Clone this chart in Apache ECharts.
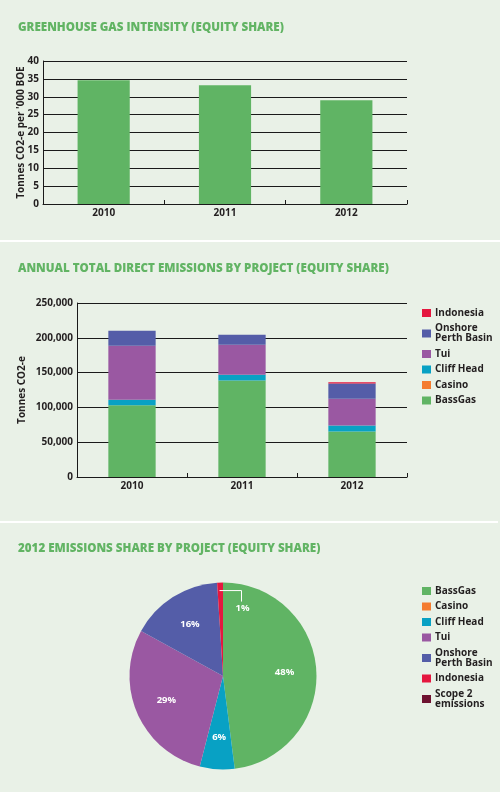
<!DOCTYPE html>
<html>
<head>
<meta charset="utf-8">
<script src="https://cdn.jsdelivr.net/npm/echarts@6/dist/echarts.min.js"></script>
<style>
  html, body { margin: 0; padding: 0; background: #e9f1e7; }
  #wrap { position: relative; width: 500px; height: 792px; overflow: hidden; }
  .sep { position: absolute; left: 0; height: 2px; background: #fff; }
  #chart { position: absolute; left: 0; top: 0; width: 500px; height: 792px; }
</style>
</head>
<body>
<div id="wrap">
  <div class="sep" style="top:240px;width:500px"></div>
  <div class="sep" style="top:521px;width:498px"></div>
  <div id="chart"></div>
</div>
<script>
// Data
const years = ['2010', '2011', '2012']

// tonnes CO2-e per '000 BOE
const intensity = [34.6, 33.2, 29.0]

// tonnes CO2-e, stacked from the bottom up
const projects = ['BassGas', 'Casino', 'Cliff Head', 'Tui', 'Onshore Perth Basin', 'Indonesia']
const bassGas = [103000, 138500, 65500]
const casino = [0, 0, 0]
const cliffHead = [8000, 8500, 8500]
const tui = [77500, 43000, 38500]
const onshorePerth = [21500, 14500, 22000]
const indonesia = [0, 0, 1500]

// 2012 share, percent
const pieNames = ['BassGas', 'Casino', 'Cliff Head', 'Tui', 'Onshore Perth Basin', 'Indonesia', 'Scope 2 emissions']
const pieShares = [48, 0, 6, 29, 16, 1, 0]

const colors = {
  'BassGas': '#60b464',
  'Casino': '#f47c30',
  'Cliff Head': '#08a1c4',
  'Tui': '#9a58a2',
  'Onshore Perth Basin': '#545da8',
  'Indonesia': '#e5173f',
  'Scope 2 emissions': '#6e1230',
}

const font = 'Open Sans'
const ink = '#231f20'
const titleGreen = '#62b464'
const pieCenter = [223, 676]
const pieRadius = 93.5

const legendNames = {
  'Onshore Perth Basin': 'Onshore\nPerth Basin',
  'Scope 2 emissions': 'Scope 2\nemissions',
}

const chart = echarts.init(document.getElementById('chart'))

const titleStyle = { color: titleGreen, fontFamily: font, fontWeight: 800, fontSize: 11.6, lineHeight: 14 }
const tickText = { color: ink, fontFamily: font, fontWeight: 'bold', fontSize: 10 }
const blackLine = { color: '#1a1a1a', width: 1 }

function valueAxis (gridIndex, max, interval, name, nameGap, fmt) {
  return {
    gridIndex,
    type: 'value',
    min: 0,
    max,
    interval,
    name,
    nameLocation: 'middle',
    nameGap,
    nameMoveOverlap: false,
    nameTextStyle: { color: ink, fontFamily: font, fontWeight: 'bold', fontSize: 10 },
    axisLine: { show: true, lineStyle: blackLine },
    axisTick: { show: false },
    axisLabel: { ...tickText, margin: 4, formatter: fmt },
    splitLine: { show: true, lineStyle: blackLine },
  }
}

function yearAxis (gridIndex) {
  return {
    gridIndex,
    type: 'category',
    data: years,
    axisLine: { show: true, lineStyle: blackLine },
    axisTick: { show: true, inside: true, length: 4, lineStyle: blackLine },
    axisLabel: { ...tickText, margin: 4 },
  }
}

const stackSeries = [bassGas, casino, cliffHead, tui, onshorePerth, indonesia].map((values, i) => ({
  name: projects[i],
  type: 'bar',
  stack: 'emissions',
  xAxisIndex: 1,
  yAxisIndex: 1,
  barWidth: '43%',
  itemStyle: { color: colors[projects[i]] },
  data: values,
}))

// leader line for the small Indonesia slice, taken from its angle in the pie
const total = pieShares.reduce((a, b) => a + b, 0)
const indoIdx = pieNames.indexOf('Indonesia')
const before = pieShares.slice(0, indoIdx).reduce((a, b) => a + b, 0)
const midAngle = (before + pieShares[indoIdx] * 0.35) / total * 2 * Math.PI
const lx0 = pieCenter[0] + (pieRadius - 8) * Math.sin(midAngle)
const ly0 = pieCenter[1] - (pieRadius - 8) * Math.cos(midAngle)
const leader = [[lx0, ly0], [lx0 + 22, ly0], [lx0 + 22, ly0 + 11]]

chart.setOption({
  animation: false,
  backgroundColor: 'transparent',
  color: pieNames.map(n => colors[n]),
  title: [
    { text: 'GREENHOUSE GAS INTENSITY (EQUITY SHARE)', left: 13, top: 16, textStyle: titleStyle },
    { text: 'ANNUAL TOTAL DIRECT EMISSIONS BY PROJECT (EQUITY SHARE)', left: 13, top: 257, textStyle: titleStyle },
    { text: '2012 EMISSIONS SHARE BY PROJECT (EQUITY SHARE)', left: 13, top: 537, textStyle: titleStyle },
  ],
  grid: [
    { left: 43, right: 93, top: 61, height: 143 },
    { left: 77, right: 93, top: 303, height: 174 },
  ],
  xAxis: [yearAxis(0), yearAxis(1)],
  yAxis: [
    valueAxis(0, 40, 5, "Tonnes CO2-e per '000 BOE", 17),
    valueAxis(1, 250000, 50000, 'Tonnes CO2-e', 50, v => v.toLocaleString('en-US')),
  ],
  legend: [
    {
      orient: 'vertical',
      left: 417,
      top: 303,
      data: projects.slice().reverse(),
      icon: 'rect',
      itemWidth: 9,
      itemHeight: 8,
      itemGap: 5.5,
      selectedMode: false,
      formatter: n => legendNames[n] || n,
      textStyle: { ...tickText, lineHeight: 10, padding: [0, 0, 0, -1] },
    },
    {
      orient: 'vertical',
      left: 417,
      top: 581,
      data: pieNames,
      icon: 'rect',
      itemWidth: 9,
      itemHeight: 8,
      itemGap: 5.5,
      selectedMode: false,
      formatter: n => legendNames[n] || n,
      textStyle: { ...tickText, lineHeight: 10, padding: [0, 0, 0, -1] },
    },
  ],
  graphic: [
    {
      type: 'polyline',
      z: 100,
      silent: true,
      shape: { points: leader },
      style: { stroke: '#fff', lineWidth: 1, fill: null },
    },
  ],
  series: [
    {
      name: 'Intensity',
      type: 'bar',
      xAxisIndex: 0,
      yAxisIndex: 0,
      barWidth: '43%',
      itemStyle: { color: colors.BassGas },
      data: intensity,
    },
    ...stackSeries,
    {
      name: '2012 share',
      type: 'pie',
      center: pieCenter,
      radius: pieRadius,
      startAngle: 90,
      clockwise: true,
      avoidLabelOverlap: false,
      silent: true,
      label: {
        position: 'inside',
        color: '#fff',
        fontFamily: font,
        fontWeight: 'bold',
        fontSize: 9.5,
        formatter: p => (p.value ? p.value + '%' : ''),
      },
      labelLine: { show: false },
      labelLayout: function (p) {
        if (p.dataIndex === indoIdx) {
          return {
            x: leader[2][0] + 1,
            y: leader[2][1] + 7,
            align: 'center',
            verticalAlign: 'middle',
          }
        }
        const lx = p.labelRect.x + p.labelRect.width / 2
        const ly = p.labelRect.y + p.labelRect.height / 2
        return {
          x: pieCenter[0] + (lx - pieCenter[0]) * 1.24,
          y: pieCenter[1] + (ly - pieCenter[1]) * 1.24,
          align: 'center',
          verticalAlign: 'middle',
        }
      },
      data: pieNames.map((name, i) => ({ name, value: pieShares[i] })),
    },
  ],
})
</script>
</body>
</html>
